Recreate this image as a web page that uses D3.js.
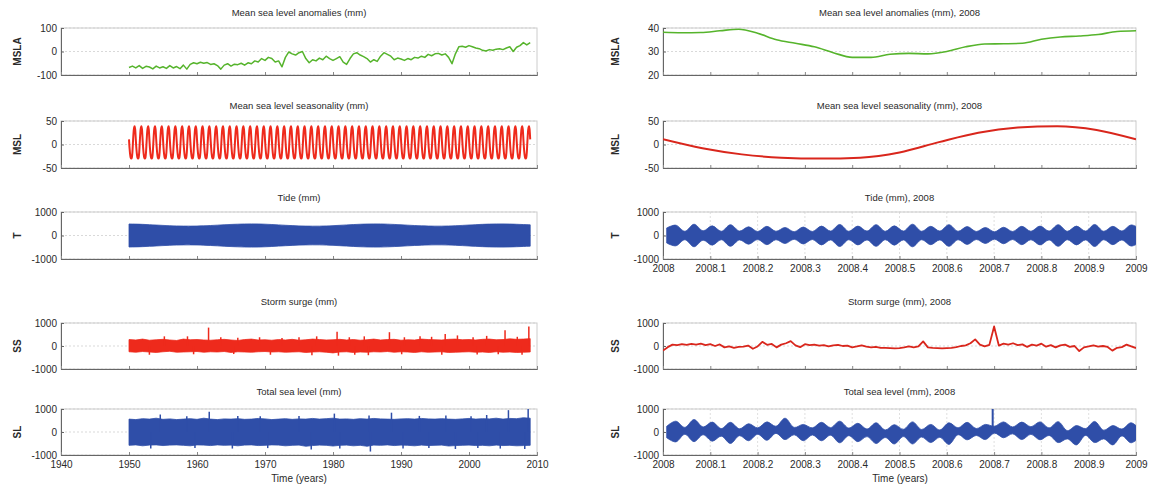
<!DOCTYPE html>
<html><head><meta charset="utf-8">
<script src="https://cdn.jsdelivr.net/npm/d3@7"></script>
<style>
body{margin:0;background:#fff}
svg{display:block}
text{font-family:"Liberation Sans",Arial,Helvetica,sans-serif;fill:#2a2a2a}
</style>
</head><body>
<svg id="c" width="1151" height="489"></svg>
<script>
// ---------------- DATA ----------------
const leftYearTicks = [1940,1950,1960,1970,1980,1990,2000,2010];
const rightYearTicks = [2008,2008.1,2008.2,2008.3,2008.4,2008.5,2008.6,2008.7,2008.8,2008.9,2009];

const titlesLeft = ["Mean sea level anomalies (mm)","Mean sea level seasonality (mm)","Tide (mm)","Storm surge (mm)","Total sea level (mm)"];
const titlesRight = ["Mean sea level anomalies (mm), 2008","Mean sea level seasonality (mm), 2008","Tide (mm), 2008","Storm surge (mm), 2008","Total sea level (mm), 2008"];
const yLabels = ["MSLA","MSL","T","SS","SL"];

const yTicksLeft = [[-100,0,100],[-50,0,50],[-1000,0,1000],[-1000,0,1000],[-1000,0,1000]];
const yTicksRight = [[20,30,40],[-50,0,50],[-1000,0,1000],[-1000,0,1000],[-1000,0,1000]];

// Mean sea level anomalies 1950.0 - 2009.0, half-year samples (mm)
const mslaStart = 1950, mslaStep = 0.5;
const mslaLeft = [
 -68,-62,-70,-60,-72,-63,-66,-74,-62,-70,-65,-72,-60,-70,-64,-73,-58,-75,-55,-48,
 -52,-46,-50,-47,-55,-52,-60,-75,-58,-52,-62,-54,-56,-50,-58,-48,-52,-40,-45,-30,
 -38,-25,-30,-45,-40,-65,-25,-2,-10,-15,-5,0,-30,-48,-35,-40,-28,-35,-20,-30,
 -38,-30,-22,-45,-55,-30,-10,-5,-15,-22,-30,-45,-35,-42,-20,-5,-12,-20,-35,-28,
 -32,-38,-30,-35,-25,-28,-20,-25,-12,-18,-10,-8,-15,-10,-25,-52,-10,20,22,18,
 25,20,15,12,5,2,8,5,10,12,8,15,20,0,18,25,38,28,38];

// MSLA during 2008, every 0.04 yr
const msla2008Step = 0.04;
const msla2008 = [38.2,38.0,38.1,38.8,39.5,37.8,35.0,33.5,32.0,29.5,27.5,27.5,28.8,29.2,29.0,30.0,32.0,33.2,33.3,33.5,35.2,36.2,36.6,37.2,38.5,38.8];

// Seasonal cycle at month boundaries (mm)
const seasonMonthly = [11,-8,-21,-28,-30,-28,-17,5,25,36,39,31,11];
const seasonYears = d3.range(1950, 2009);

// Tide envelope amplitude per year 1950..2009 (mm)
const tideYears = d3.range(1950, 2010);
const tideLeftAmp = [490,485,475,460,445,430,415,405,400,398,402,410,425,440,458,472,482,490,495,492,
 482,468,452,435,420,408,400,396,398,405,418,434,450,466,480,488,494,492,484,472,
 456,440,424,410,402,397,398,404,415,430,446,462,476,486,492,494,488,478,465,455];

// Tide 2008: envelope alternating neap / spring (mm), half spring-neap spacing
const tide2008Start = 0.0078, tide2008Step = 0.01925;
const tide2008Env = [320,440,180,480,200,410,180,460,190,370,170,390,180,340,160,360,170,400,190,470,
 180,400,190,460,180,410,190,480,180,390,190,460,180,380,170,340,160,350,170,390,
 180,400,190,460,180,400,190,470,180,390,190,450,280];

// Storm surge per-year max / min 1950..2009 (mm)
const ssLeftMax = [280,260,300,250,270,290,260,240,300,270,280,260,250,270,290,260,240,280,300,260,
 270,250,280,260,290,250,270,300,280,260,270,290,260,280,250,270,300,260,280,290,
 250,270,260,300,280,270,260,290,300,270,280,260,290,300,270,280,310,290,300,320];
const ssLeftMin = [-250,-270,-240,-260,-280,-250,-230,-270,-260,-250,-240,-270,-250,-260,-240,-280,-250,-260,-270,-250,
 -240,-260,-250,-270,-260,-250,-280,-260,-250,-270,-300,-260,-250,-280,-260,-270,-250,-260,-240,-270,
 -250,-260,-280,-250,-270,-260,-250,-280,-270,-260,-250,-270,-260,-280,-250,-270,-260,-280,-270,-260];
const ssLeftPeaks = [[1955.2,420],[1958.6,420],[1961.7,800],[1963.5,380],[1966.0,360],[1969.2,380],[1972.5,350],
 [1975.0,380],[1977.6,420],[1980.6,620],[1982.4,380],[1984.6,420],[1988.3,600],[1990.5,380],[1992.8,420],
 [1994.5,400],[1996.5,520],[1998.3,460],[2000.6,380],[2002.6,440],[2005.3,680],[2007.1,400],[2008.8,850],
 [1953.0,-380],[1959.5,-360],[1965.4,-350],[1970.8,-380],[1976.9,-400],[1980.8,-420],[1983.2,-380],
 [1985.2,-400],[1990.1,-360],[1996.0,-380],[2001.2,-370],[2004.3,-360],[2007.8,-380]];

// Storm surge 2008, every 0.01 yr (mm)
const ss2008Step = 0.01;
const ss2008 = [-200,-50,60,40,80,50,90,60,100,40,80,0,70,-60,-20,-80,-40,-30,20,-120,
 -20,180,50,90,-60,60,120,210,30,-50,80,40,60,20,40,-20,30,50,0,20,
 -60,-20,30,-30,-60,-40,-80,-80,-90,-100,-90,-60,-20,-60,-20,200,-60,-80,-90,-100,
 -90,-80,-50,0,30,120,290,60,-20,50,850,20,100,60,120,40,70,-40,60,20,
 100,-30,40,-60,30,60,-40,0,-220,-60,-20,30,-30,0,-40,-200,-80,-50,60,-20,-90];

// Total sea level per-year max / min 1950..2009 (mm)
const tslLeftMax = [560,540,580,560,600,550,570,540,560,580,550,600,560,540,570,560,580,550,560,590,
 570,540,560,580,550,570,560,590,560,580,600,560,570,550,580,560,590,570,560,550,
 570,580,560,590,570,560,580,560,550,570,590,560,580,570,600,560,590,580,620,600];
const tslLeftMin = [-580,-560,-600,-570,-560,-590,-570,-560,-580,-600,-560,-570,-590,-560,-580,-570,-600,-570,-560,-590,
 -580,-560,-570,-600,-580,-570,-620,-590,-570,-580,-610,-580,-570,-600,-580,-620,-570,-580,-560,-590,
 -570,-580,-600,-570,-590,-580,-570,-610,-590,-580,-570,-590,-580,-600,-570,-590,-580,-600,-590,-580];
const tslLeftPeaks = [[1954.6,760],[1958.5,680],[1961.8,880],[1966.0,700],[1969.3,680],[1975.0,700],[1980.2,800],
 [1985.3,720],[1988.6,840],[1992.7,700],[1996.6,720],[2000.3,690],[2002.6,740],[2005.8,950],[2008.7,1000],
 [1953.2,-720],[1959.7,-700],[1965.2,-720],[1970.4,-700],[1976.8,-760],[1981.0,-720],[1985.5,-850],
 [1990.3,-720],[1994.1,-700],[1998.0,-740],[2001.3,-700],[2004.6,-720],[2008.2,-740]];

// Total sea level 2008 envelope (alternating neap / spring), mm
const tsl2008Upper = [250,470,200,540,220,430,150,420,140,360,180,440,250,600,200,330,180,420,190,470,
 170,380,130,400,90,320,120,440,110,330,90,400,180,420,150,330,250,440,220,430,
 230,440,180,450,60,280,150,460,80,280,130,400,100];
const tsl2008Lower = [-250,-430,-100,-420,-120,-400,-180,-500,-160,-380,-100,-360,-60,-330,-120,-380,-130,-380,-140,-470,
 -160,-420,-200,-500,-240,-520,-200,-520,-220,-460,-230,-540,-120,-340,-150,-330,-50,-250,-80,-330,
 -100,-340,-150,-460,-300,-560,-150,-460,-300,-560,-170,-470,-200];
const tsl2008Peaks = [[2008.697,1000]];

// ---------------- LAYOUT ----------------
const svg = d3.select("#c");
const colX = [[61,537],[663,1136]];
const rowY = [[28,75],[121,168],[212,259],[323,369],[409,455]];
const titleBase = [16,109,201,305,395];
const green = "#56b42c", red = "#ee2a1c", redDark = "#d9261c", blue = "#2f4ea8";

let clipId = 0;
function panel(col, row, opt){
  const [x0,x1] = colX[col], [y0,y1] = rowY[row];
  const x = d3.scaleLinear().domain(opt.xDomain).range([x0,x1]);
  const y = d3.scaleLinear().domain(opt.yDomain).range([y1,y0]);
  const g = svg.append("g");
  g.selectAll(".hg").data(opt.yTicks).join("line")
    .attr("x1",x0).attr("x2",x1).attr("y1",d=>y(d)).attr("y2",d=>y(d))
    .attr("stroke","#cfcfcf").attr("stroke-width",0.8).attr("stroke-dasharray","2,2");
  if(opt.xGrid){
    g.selectAll(".vg").data(opt.xTicks.slice(1,-1)).join("line")
      .attr("x1",d=>x(d)).attr("x2",d=>x(d)).attr("y1",y0).attr("y2",y1)
      .attr("stroke","#d8d8d8").attr("stroke-width",0.8).attr("stroke-dasharray","2,2");
  }
  g.append("rect").attr("x",x0).attr("y",y0).attr("width",x1-x0).attr("height",y1-y0)
    .attr("fill","none").attr("stroke","#cccccc").attr("stroke-width",1);
  const ay = d3.axisLeft(y).tickValues(opt.yTicks).tickSize(-3).tickPadding(4).tickFormat(d=>String(d));
  const gy = g.append("g").attr("transform",`translate(${x0},0)`).call(ay);
  gy.select(".domain").attr("stroke","#666");
  gy.selectAll(".tick line").attr("stroke","#666");
  gy.selectAll("text").attr("font-size",10).attr("fill","#2a2a2a");
  const ax = d3.axisBottom(x).tickValues(opt.xTicks).tickSize(-3).tickPadding(6)
    .tickFormat(d=> opt.xLabels ? String(+d.toFixed(1)) : "");
  const gx = g.append("g").attr("transform",`translate(0,${y1})`).call(ax);
  gx.select(".domain").attr("stroke","#666");
  gx.selectAll(".tick line").attr("stroke","#888");
  gx.selectAll("text").attr("font-size",10).attr("fill","#2a2a2a");
  svg.append("text").attr("x",(x0+x1)/2).attr("y",titleBase[row]).attr("text-anchor","middle")
    .attr("font-size",9.5).text(opt.title);
  svg.append("text").attr("transform",`translate(${col===0?21:619},${(y0+y1)/2}) rotate(-90)`)
    .attr("text-anchor","middle").attr("font-size",10).attr("font-weight","bold").attr("fill","#444").text(opt.ylabel);
  const id = "clip"+(clipId++);
  svg.append("clipPath").attr("id",id).append("rect").attr("x",x0).attr("y",y0-1).attr("width",x1-x0).attr("height",y1-y0+2);
  const data = svg.append("g").attr("clip-path",`url(#${id})`);
  return {x,y,data};
}

function mk(col,row,xLabels,xGrid){
  return panel(col,row,{
    xDomain: col===0?[1940,2010]:[2008,2009],
    xTicks: col===0?leftYearTicks:rightYearTicks,
    xLabels, xGrid,
    yDomain: d3.extent(col===0?yTicksLeft[row]:yTicksRight[row]),
    yTicks: col===0?yTicksLeft[row]:yTicksRight[row],
    title: col===0?titlesLeft[row]:titlesRight[row],
    ylabel: yLabels[row]
  });
}

// ---- Left column ----
{
  const p = mk(0,0,false,false);
  const pts = mslaLeft.map((v,i)=>[mslaStart+i*mslaStep, v]);
  p.data.append("path").attr("d", d3.line().x(d=>p.x(d[0])).y(d=>p.y(d[1]))(pts))
    .attr("fill","none").attr("stroke",green).attr("stroke-width",1.5).attr("stroke-linejoin","round");
}
{
  const p = mk(0,1,false,false);
  const pts = [];
  const lastYr = seasonYears[seasonYears.length-1];
  seasonYears.forEach(yr=>seasonMonthly.forEach((v,m)=>{ if(m<12 || yr===lastYr) pts.push([yr+m/12,v]); }));
  p.data.append("path").attr("d", d3.line().x(d=>p.x(d[0])).y(d=>p.y(d[1])).curve(d3.curveMonotoneX)(pts))
    .attr("fill","none").attr("stroke",red).attr("stroke-width",2);
}
{
  const p = mk(0,2,false,false);
  const pts = tideLeftAmp.map((v,i)=>[tideYears[i], v]);
  const area = d3.area().x(d=>p.x(d[0])).y0(d=>p.y(-d[1])).y1(d=>p.y(d[1])).curve(d3.curveBasis);
  p.data.append("path").attr("d", area(pts)).attr("fill",blue).attr("stroke",blue).attr("stroke-width",0.8);
}
function bandWithPeaks(p, maxArr, minArr, peaks, color){
  const pts = tideYears.map((yr,i)=>[yr, maxArr[i], minArr[i]]);
  const area = d3.area().x(d=>p.x(d[0])).y0(d=>p.y(d[2])).y1(d=>p.y(d[1]));
  p.data.append("path").attr("d", area(pts)).attr("fill",color).attr("stroke",color).attr("stroke-width",0.8);
  p.data.selectAll(null).data(peaks).join("line")
    .attr("x1",d=>p.x(d[0])).attr("x2",d=>p.x(d[0])).attr("y1",p.y(0)).attr("y2",d=>p.y(d[1]))
    .attr("stroke",color).attr("stroke-width",1.5);
}
bandWithPeaks(mk(0,3,false,false), ssLeftMax, ssLeftMin, ssLeftPeaks, red);
bandWithPeaks(mk(0,4,true,false), tslLeftMax, tslLeftMin, tslLeftPeaks, blue);

// ---- Right column ----
{
  const p = mk(1,0,false,false);
  const pts = msla2008.map((v,i)=>[2008+i*msla2008Step, v]);
  p.data.append("path").attr("d", d3.line().x(d=>p.x(d[0])).y(d=>p.y(d[1])).curve(d3.curveMonotoneX)(pts))
    .attr("fill","none").attr("stroke",green).attr("stroke-width",1.6);
}
{
  const p = mk(1,1,false,false);
  const pts = seasonMonthly.map((v,m)=>[2008+m/12, v]);
  p.data.append("path").attr("d", d3.line().x(d=>p.x(d[0])).y(d=>p.y(d[1])).curve(d3.curveMonotoneX)(pts))
    .attr("fill","none").attr("stroke",redDark).attr("stroke-width",2);
}
{
  const p = mk(1,2,true,true);
  const pts = tide2008Env.map((v,i)=>[2008+tide2008Start+i*tide2008Step, v]);
  const area = d3.area().x(d=>p.x(d[0])).y0(d=>p.y(-d[1])).y1(d=>p.y(d[1])).curve(d3.curveCatmullRom);
  p.data.append("path").attr("d", area(pts)).attr("fill",blue).attr("stroke",blue).attr("stroke-width",0.8);
}
{
  const p = mk(1,3,false,false);
  const pts = ss2008.map((v,i)=>[2008+i*ss2008Step, v]);
  p.data.append("path").attr("d", d3.line().x(d=>p.x(d[0])).y(d=>p.y(d[1]))(pts))
    .attr("fill","none").attr("stroke",redDark).attr("stroke-width",1.8).attr("stroke-linejoin","round");
}
{
  const p = mk(1,4,true,true);
  const pts = tsl2008Upper.map((v,i)=>[2008+tide2008Start+i*tide2008Step, v, tsl2008Lower[i]]);
  const area = d3.area().x(d=>p.x(d[0])).y0(d=>p.y(d[2])).y1(d=>p.y(d[1])).curve(d3.curveCatmullRom);
  p.data.append("path").attr("d", area(pts)).attr("fill",blue).attr("stroke",blue).attr("stroke-width",0.8);
  p.data.selectAll(null).data(tsl2008Peaks).join("line")
    .attr("x1",d=>p.x(d[0])).attr("x2",d=>p.x(d[0])).attr("y1",p.y(0)).attr("y2",d=>p.y(d[1]))
    .attr("stroke",blue).attr("stroke-width",2);
}

// x-axis labels
[[299,"Time (years)"],[900,"Time (years)"]].forEach(([cx,t])=>{
  svg.append("text").attr("x",cx).attr("y",482).attr("text-anchor","middle").attr("font-size",10).text(t);
});
</script>
</body></html>
